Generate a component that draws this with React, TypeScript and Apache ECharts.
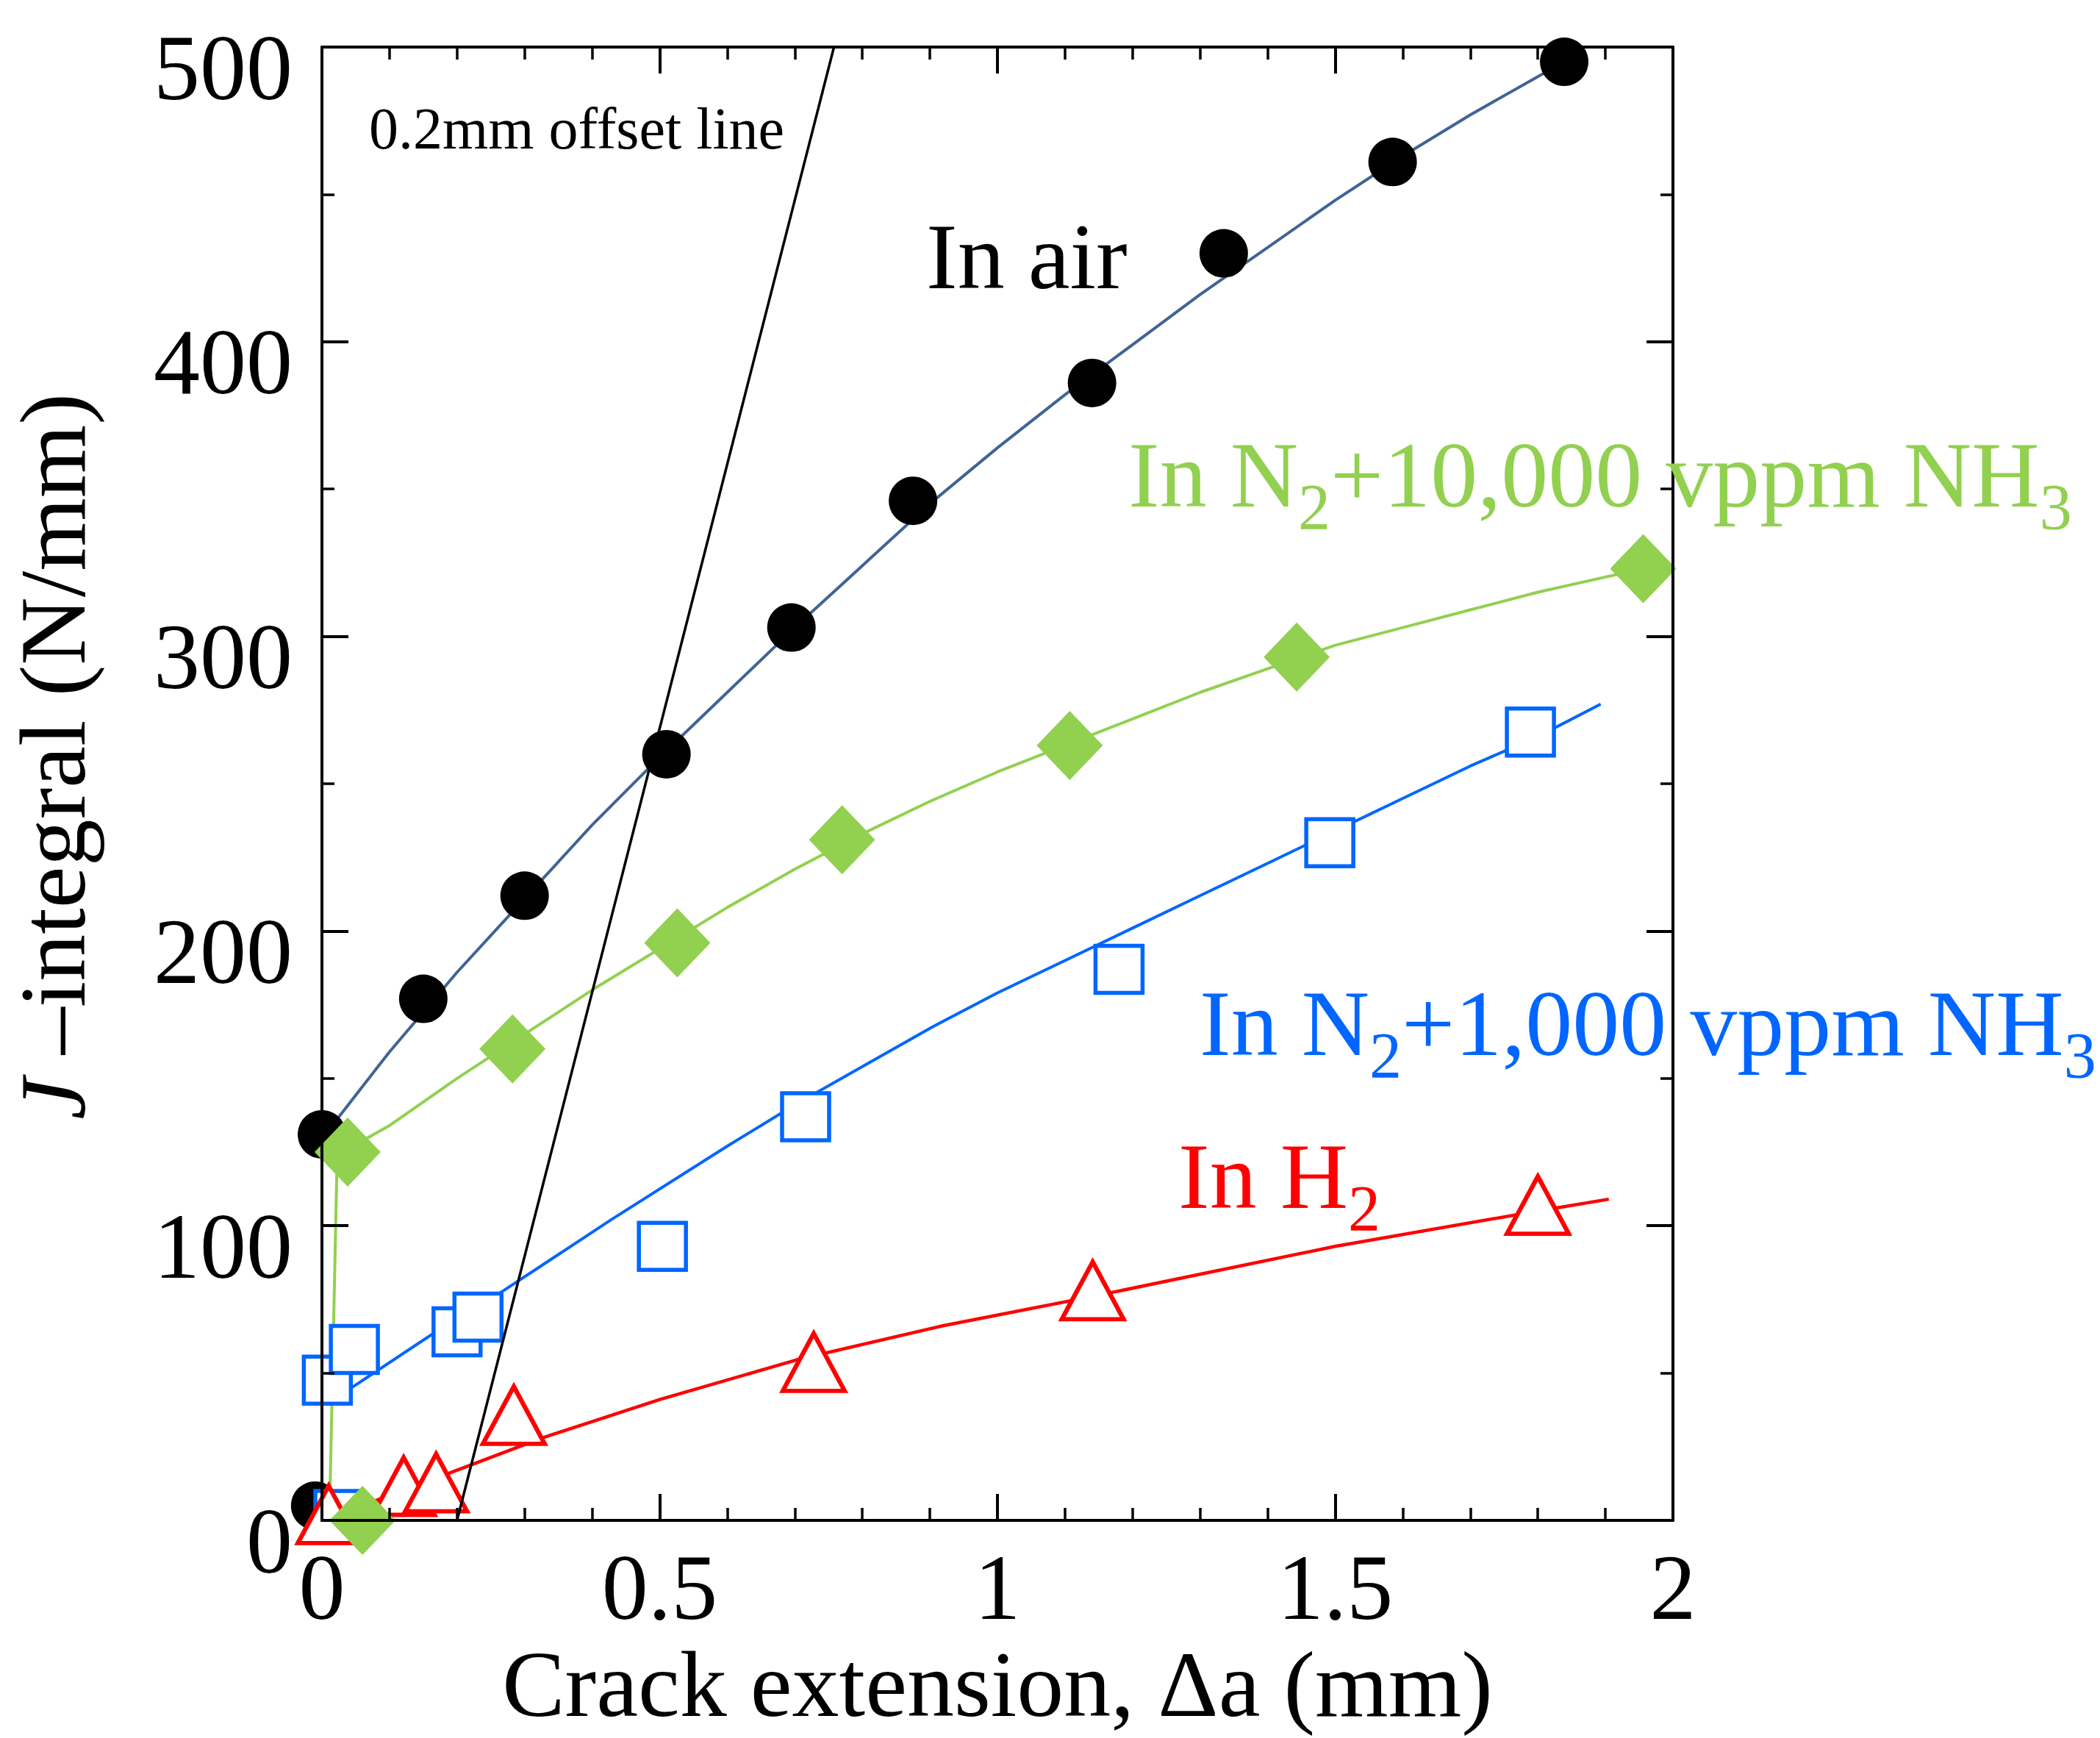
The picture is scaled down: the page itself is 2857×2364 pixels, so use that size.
import React, { useEffect, useRef } from 'react';
import * as echarts from 'echarts';

const FONT = "'Liberation Serif', 'Times New Roman', Times, serif";

// In air (black circles) and its fitted curve
const airX = [-0.01, 0.0, 0.15, 0.30, 0.51, 0.695, 0.875, 1.14, 1.335, 1.585, 1.839];
const airJ = [5, 131, 177, 212, 260, 303, 346, 386, 430, 461, 495];
const airFitX = [0.01, 0.1, 0.2, 0.3, 0.4, 0.5, 0.6, 0.7, 0.8, 0.9, 1.0, 1.1, 1.2, 1.3, 1.4, 1.5, 1.6, 1.7, 1.839];
const airFitJ = [132.5, 159, 186, 211, 236, 259, 281, 303, 324, 345, 364, 382, 399, 416, 432, 448, 463, 477, 495];

// In N2 + 10,000 vppm NH3 (green diamonds)
const greenX = [0.06, 0.038, 0.282, 0.526, 0.77, 1.107, 1.443, 1.956];
const greenJ = [0, 125, 160, 196, 231, 263, 293, 323];
const greenFitX = [0.012, 0.022, 0.038, 0.1, 0.2, 0.3, 0.4, 0.5, 0.6, 0.7, 0.8, 0.9, 1.0, 1.1, 1.2, 1.3, 1.4, 1.5, 1.6, 1.7, 1.8, 1.956];
const greenFitJ = [10, 118, 126, 134, 150, 165, 180, 194, 208, 221, 233, 244, 254, 263, 272, 281, 289, 297, 303, 309, 315, 323];

// In N2 + 1,000 vppm NH3 (blue open squares)
const blueX = [0.025, 0.008, 0.048, 0.2, 0.231, 0.504, 0.716, 1.18, 1.492, 1.789];
const blueJ = [2, 47.6, 58, 64, 69, 93, 137, 187, 230, 267.5];
const blueFitX = [0.008, 0.047, 0.162, 0.269, 0.428, 0.6, 0.7, 0.8, 0.9, 1.0, 1.1, 1.2, 1.3, 1.4, 1.5, 1.6, 1.7, 1.8, 1.893];
const blueFitJ = [40, 45.5, 63, 78, 102, 127, 141, 154, 167, 179, 190, 201, 212, 223, 234, 245, 256, 266, 277];

// In H2 (red open triangles)
const redX = [0.01, 0.121, 0.169, 0.284, 0.728, 1.141, 1.8];
const redJ = [2, 11.6, 12.8, 35.7, 53.7, 78, 107];
const redFitX = [0.0, 0.083, 0.188, 0.326, 0.5, 0.703, 0.918, 1.141, 1.5, 1.8, 1.905];
const redFitJ = [0, 7, 16, 28, 41, 54.5, 66, 76, 93, 105, 109];

// 0.2 mm offset line
const offsetX = [0.2, 0.758];
const offsetJ = [0, 500];

const xTicks = { min: 0, max: 2, interval: 0.5 };
const yTicks = { min: 0, max: 500, interval: 100 };

const pairs = (xs: number[], ys: number[]) => xs.map((x, i) => [x, ys[i]]);

const GREEN = '#92d050';
const BLUE = '#0066ff';
const RED = '#ff0000';
const AIRLINE = '#3f6494';

function richLabel(parts: [string, boolean][], color: string) {
  const text = parts.map(([t, sub]) => `{${sub ? 's' : 'a'}|${t}}`).join('');
  return {
    text,
    rich: {
      a: { fontSize: 128, fontFamily: FONT, fill: color, lineHeight: 174, verticalAlign: 'middle' },
      s: { fontSize: 88, fontFamily: FONT, fill: color, lineHeight: 88, verticalAlign: 'bottom' },
    },
    align: 'left',
    verticalAlign: 'middle',
  };
}

function buildOption(): any {
  const axisBase = {
    type: 'value',
    axisLine: { show: true, onZero: false, lineStyle: { color: '#000', width: 4 } },
    axisTick: { show: true, inside: true, length: 36, lineStyle: { color: '#000', width: 4 } },
    splitLine: { show: false },
    minorSplitLine: { show: false },
    z: 5,
  };
  const labelStyle = { fontSize: 126, fontFamily: FONT, color: '#000' };
  const fitLine = { symbol: 'none', smooth: false, z: 2 };
  return {
    animation: false,
    backgroundColor: '#ffffff',
    grid: { left: 437, top: 64, width: 1839, height: 2004, containLabel: false },
    xAxis: [
      {
        ...axisBase,
        ...xTicks,
        position: 'bottom',
        minorTick: { show: true, splitNumber: 5, length: 17, lineStyle: { color: '#000', width: 3.5 } },
        axisLabel: { ...labelStyle, margin: 28 },
        name: 'Crack extension, Δa (mm)',
        nameLocation: 'middle',
        nameGap: 166,
        nameTextStyle: { fontSize: 128, fontFamily: FONT, color: '#000', lineHeight: 110 },
      },
      {
        ...axisBase,
        ...xTicks,
        position: 'top',
        minorTick: { show: true, splitNumber: 5, length: 17, lineStyle: { color: '#000', width: 3.5 } },
        axisLabel: { show: false },
      },
    ],
    yAxis: [
      {
        ...axisBase,
        ...yTicks,
        position: 'left',
        minorTick: { show: true, splitNumber: 2, length: 17, lineStyle: { color: '#000', width: 3.5 } },
        axisLabel: { ...labelStyle, margin: 40, verticalAlign: 'top', lineHeight: 56 },
        name: '{i|J} –integral (N/mm)',
        nameLocation: 'middle',
        nameRotate: 90,
        nameGap: 302,
        nameTextStyle: {
          fontSize: 128,
          fontFamily: FONT,
          color: '#000',
          padding: [0, 0, 0, 74],
          rich: { i: { fontSize: 128, fontFamily: FONT, fontStyle: 'italic', color: '#000' } },
        },
      },
      {
        ...axisBase,
        ...yTicks,
        position: 'right',
        minorTick: { show: true, splitNumber: 2, length: 17, lineStyle: { color: '#000', width: 3.5 } },
        axisLabel: { show: false },
      },
    ],
    series: [
      {
        type: 'scatter', name: 'In air', data: pairs(airX, airJ), symbol: 'circle', symbolSize: 66,
        itemStyle: { color: '#000', opacity: 1 }, clip: false, z: 2,
      },
      { type: 'line', name: 'air fit', data: pairs(airFitX, airFitJ), ...fitLine, lineStyle: { color: AIRLINE, width: 4 } },
      { type: 'line', name: 'N2 10000 fit', data: pairs(greenFitX, greenFitJ), ...fitLine, lineStyle: { color: GREEN, width: 4 } },
      { type: 'line', name: 'N2 1000 fit', data: pairs(blueFitX, blueFitJ), ...fitLine, lineStyle: { color: BLUE, width: 4 } },
      { type: 'line', name: 'H2 fit', data: pairs(redFitX, redFitJ), ...fitLine, lineStyle: { color: RED, width: 4.5 } },
      {
        type: 'scatter', name: 'In N2+1,000 vppm NH3', data: pairs(blueX, blueJ), symbol: 'rect', symbolSize: 64,
        itemStyle: { color: '#fff', borderColor: BLUE, borderWidth: 5.5, opacity: 1 }, clip: false, z: 3,
      },
      {
        type: 'scatter', name: 'In H2', data: pairs(redX, redJ), symbol: 'triangle', symbolSize: [84, 78],
        itemStyle: { color: '#fff', borderColor: RED, borderWidth: 6, opacity: 1 }, clip: false, z: 3,
      },
      {
        type: 'scatter', name: 'In N2+10,000 vppm NH3', data: pairs(greenX, greenJ), symbol: 'diamond', symbolSize: [90, 94],
        itemStyle: { color: GREEN, opacity: 1 }, clip: false, z: 3,
      },
      {
        type: 'line', name: '0.2mm offset line', data: pairs(offsetX, offsetJ), symbol: 'none',
        lineStyle: { color: '#000', width: 3.5 }, z: 4,
      },
    ],
    graphic: [
      {
        type: 'text', x: 502, y: 175, z: 10,
        style: { text: '0.2mm offset line', fontSize: 80, fontFamily: FONT, fill: '#000', align: 'left', verticalAlign: 'middle' },
      },
      {
        type: 'text', x: 1260, y: 349, z: 10,
        style: { text: 'In air', fontSize: 128, fontFamily: FONT, fill: '#000', align: 'left', verticalAlign: 'middle' },
      },
      {
        type: 'text', x: 1535, y: 646, z: 10,
        style: richLabel([['In N', false], ['2', true], ['+10,000 vppm NH', false], ['3', true]], GREEN),
      },
      {
        type: 'text', x: 1632, y: 1392, z: 10,
        style: richLabel([['In N', false], ['2', true], ['+1,000 vppm NH', false], ['3', true]], BLUE),
      },
      {
        type: 'text', x: 1603, y: 1600, z: 10,
        style: richLabel([['In H', false], ['2', true]], RED),
      },
    ],
  };
}

export default function App() {
  const ref = useRef<HTMLDivElement>(null);
  useEffect(() => {
    const el = ref.current;
    if (!el) return;
    const chart = echarts.init(el, null, { renderer: 'svg' });
    chart.setOption(buildOption());
    return () => chart.dispose();
  }, []);
  return (
    <div
      ref={ref}
      style={{ position: 'absolute', left: 0, top: 0, width: 2857, height: 2364, background: '#fff' }}
    />
  );
}
